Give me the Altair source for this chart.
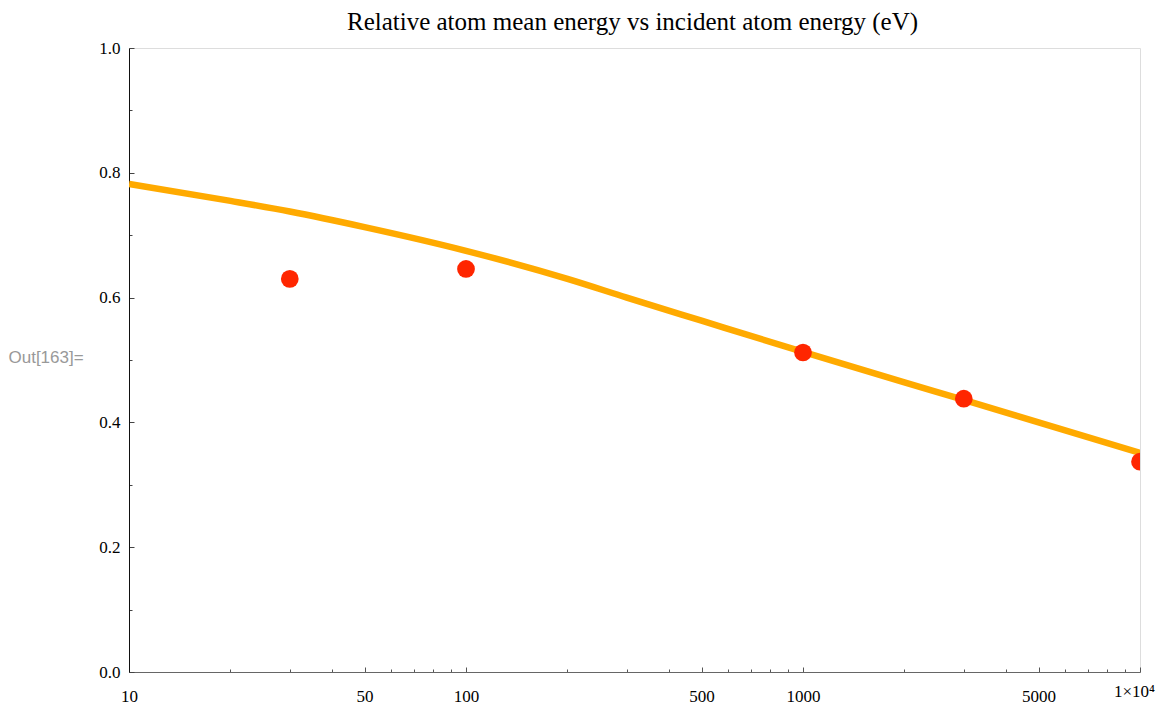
import altair as alt
import pandas as pd

# ---- data ----
curve_energy = [10, 20, 30, 50, 100, 200, 300, 500, 1000, 2000, 3000, 5000, 10000]
curve_ratio = [0.782, 0.755, 0.738, 0.713, 0.675, 0.630, 0.600, 0.563, 0.513, 0.464, 0.436, 0.400, 0.351]

point_energy = [30, 100, 1000, 3000, 10000]
point_ratio = [0.630, 0.646, 0.512, 0.438, 0.337]

x_tick_values = [m * 10 ** k for k in (1, 2, 3) for m in range(1, 10)] + [10000]
x_major = [10, 50, 100, 500, 1000, 5000, 10000]
y_tick_values = [round(i * 0.05, 2) for i in range(21)]
y_major = [0.0, 0.2, 0.4, 0.6, 0.8, 1.0]

title_text = "Relative atom mean energy vs incident atom energy (eV)"
out_label = "Out[163]="

curve_df = pd.DataFrame({"energy": curve_energy, "ratio": curve_ratio})
point_df = pd.DataFrame({"energy": point_energy, "ratio": point_ratio})
title_df = pd.DataFrame({"title": [title_text]})

PLOT_W, PLOT_H = 1011, 624

x_major_js = "[" + ",".join(str(v) for v in x_major) + "]"
x_test = f"indexof({x_major_js}, datum.value) >= 0"
y_test = "abs(datum.value*5 - round(datum.value*5)) < 0.001"
last_test = "datum.value == 10000"

x_enc = alt.X(
    "energy:Q",
    scale=alt.Scale(type="log", domain=[10, 10000], nice=False),
    axis=alt.Axis(
        values=x_tick_values,
        title=None,
        grid=False,
        labelExpr=f"{last_test} ? '1×10⁴' : ({x_test} ? format(datum.value, 'd') : '')",
        labelFont="Liberation Serif",
        labelFontSize=17,
        labelColor="#000000",
        labelFlush=False,
        labelOverlap=False,
        labelPadding={"condition": {"test": last_test, "value": 16}, "value": 21},
        labelOffset={"condition": {"test": last_test, "value": -6}, "value": 0},
        tickSize={"condition": {"test": x_test, "value": -5}, "value": -3},
        tickColor="#555555",
        tickWidth=1,
        domainColor="#666666",
        domainWidth=1.2,
    ),
)

y_enc = alt.Y(
    "ratio:Q",
    scale=alt.Scale(domain=[0, 1], nice=False),
    axis=alt.Axis(
        values=y_tick_values,
        title=out_label,
        titleAngle=0,
        titleAlign="left",
        titleBaseline="middle",
        titleX=-121,
        titleY=309,
        titleFont="Liberation Sans",
        titleFontSize=17,
        titleFontWeight="normal",
        titleColor="#999999",
        grid=False,
        labelExpr=f"{y_test} ? format(datum.value, '.1f') : ''",
        labelFont="Liberation Serif",
        labelFontSize=17,
        labelColor="#000000",
        labelFlush=False,
        labelOverlap=False,
        labelPadding=14,
        tickSize={"condition": {"test": y_test, "value": -5}, "value": -3},
        tickColor="#444444",
        tickWidth=1,
        domainColor="#111111",
        domainWidth=1,
    ),
)

line = alt.Chart(curve_df).mark_line(
    color="#FFAA00", strokeWidth=6.5, interpolate="monotone", clip=True
).encode(x=x_enc, y=y_enc)

points = alt.Chart(point_df).mark_circle(
    color="#FF2600", size=314, opacity=1, clip=True
).encode(x=alt.X("energy:Q"), y=alt.Y("ratio:Q"))

title = alt.Chart(title_df).mark_text(
    font="Liberation Serif",
    fontSize=25,
    color="#000000",
    align="center",
    baseline="alphabetic",
).encode(
    text="title:N",
    x=alt.value(PLOT_W / 2 - 2),
    y=alt.value(-18),
)

chart = (
    alt.layer(line, points, title)
    .properties(
        width=PLOT_W,
        height=PLOT_H,
        autosize=alt.AutoSizeParams(type="none"),
        padding={"left": 121, "top": 40, "right": 17, "bottom": 35},
    )
    .configure_view(stroke="transparent", strokeWidth=0)
    .configure(background="white")
)

chart.save("out.html", embed_options={"renderer": "svg", "actions": False})
